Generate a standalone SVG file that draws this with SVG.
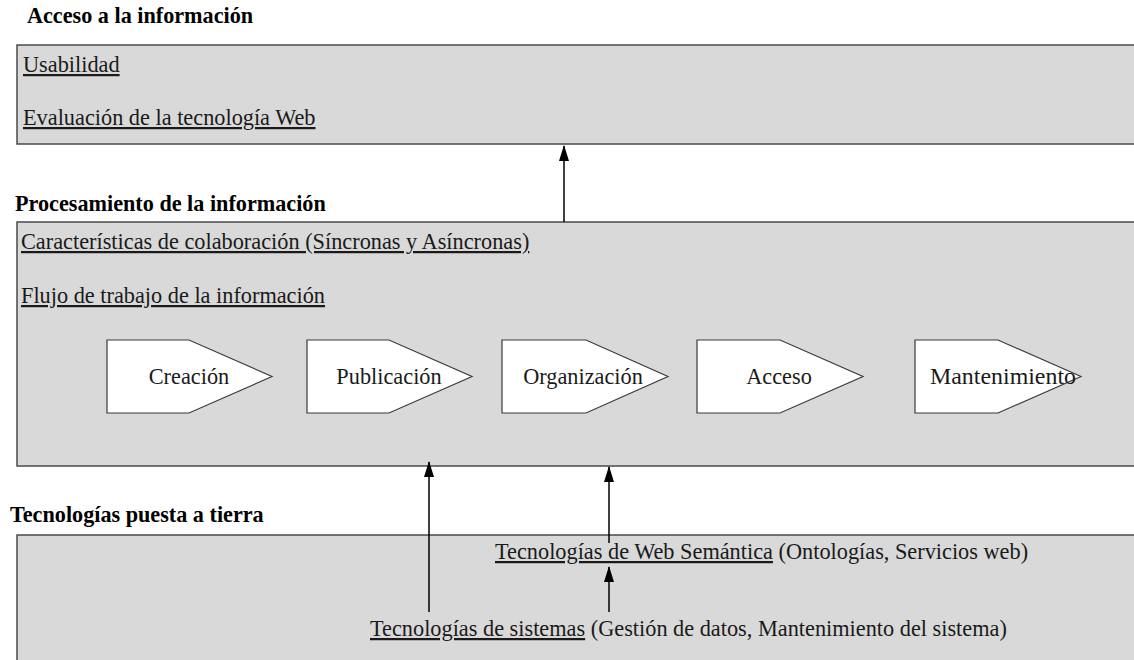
<svg xmlns="http://www.w3.org/2000/svg" width="1134" height="660" viewBox="0 0 1134 660">
  <style>
    .layer { fill: #d9d9d9; stroke: #4a4a4a; stroke-width: 1.5; }
    .head { font-family: 'Liberation Serif', 'Times New Roman', 'DejaVu Serif', serif; font-weight: bold; font-size: 22.2px; fill: #000; }
    .txt { font-family: 'Liberation Serif', 'Times New Roman', 'DejaVu Serif', serif; font-size: 22.3px; fill: #1a1a1a; }
    .u { text-decoration: underline; }
    .step { fill: #ffffff; stroke: #3a3a3a; stroke-width: 1.2; }
    .steplabel { font-family: 'Liberation Serif', 'Times New Roman', 'DejaVu Serif', serif; font-size: 22.3px; fill: #1a1a1a; text-anchor: middle; }
    .conn { stroke: #000; stroke-width: 1.5; fill: none; marker-end: url(#arrow); }
  </style>
  <defs>
    <marker id="arrow" viewBox="0 0 16 10" refX="15" refY="5" markerWidth="16" markerHeight="10" markerUnits="userSpaceOnUse" orient="auto">
      <path d="M0,0 L16,5 L0,10 Z" fill="#000"/>
    </marker>
  </defs>

  <rect width="1134" height="660" fill="#ffffff"/>

  <!-- Layer: access to information -->
  <g id="acceso">
    <text class="head" x="27" y="23">Acceso a la información</text>
    <rect class="layer" x="17" y="45" width="1130" height="99"/>
    <text class="txt u" x="23" y="72">Usabilidad</text>
    <text class="txt u" x="23" y="125">Evaluación de la tecnología Web</text>
  </g>

  <!-- Layer: information processing -->
  <g id="procesamiento">
    <text class="head" x="15" y="211">Procesamiento de la información</text>
    <rect class="layer" x="17" y="222" width="1130" height="244"/>
    <text class="txt u" x="21" y="249">Características de colaboración (Síncronas y Asíncronas)</text>
    <text class="txt u" x="21" y="303">Flujo de trabajo de la información</text>
  </g>

  <!-- Workflow steps -->
  <g id="creacion">
    <polygon class="step" points="107,340 189,340 272,376.5 189,413 107,413"/>
    <text class="steplabel" x="189" y="384">Creación</text>
  </g>
  <g id="publicacion">
    <polygon class="step" points="307,340 389,340 472,376.5 389,413 307,413"/>
    <text class="steplabel" x="389" y="384">Publicación</text>
  </g>
  <g id="organizacion">
    <polygon class="step" points="502,340 586,340 668,376.5 586,413 502,413"/>
    <text class="steplabel" x="583" y="384">Organización</text>
  </g>
  <g id="acceso-step">
    <polygon class="step" points="697,340 780,340 863,376.5 780,413 697,413"/>
    <text class="steplabel" x="779" y="384">Acceso</text>
  </g>
  <g id="mantenimiento">
    <polygon class="step" points="915,340 998,340 1081,376.5 998,413 915,413"/>
    <text class="steplabel" x="1003" y="384" textLength="146" lengthAdjust="spacingAndGlyphs">Mantenimiento</text>
  </g>

  <!-- Layer: grounding technologies -->
  <g id="tecnologias">
    <text class="head" x="10" y="522">Tecnologías puesta a tierra</text>
    <rect class="layer" x="17" y="535" width="1130" height="140"/>
    <text class="txt" x="495" y="559"><tspan class="u">Tecnologías de Web Semántica</tspan> (Ontologías, Servicios web)</text>
    <text class="txt" x="370" y="636"><tspan class="u">Tecnologías de sistemas</tspan> (Gestión de datos, Mantenimiento del sistema)</text>
  </g>

  <!-- Connectors -->
  <g id="connectors">
    <line class="conn" x1="564" y1="222" x2="564" y2="146"/>
    <line class="conn" x1="429" y1="612" x2="429" y2="462"/>
    <line class="conn" x1="609" y1="543" x2="609" y2="467"/>
    <line class="conn" x1="609" y1="612" x2="609" y2="567"/>
  </g>
</svg>
